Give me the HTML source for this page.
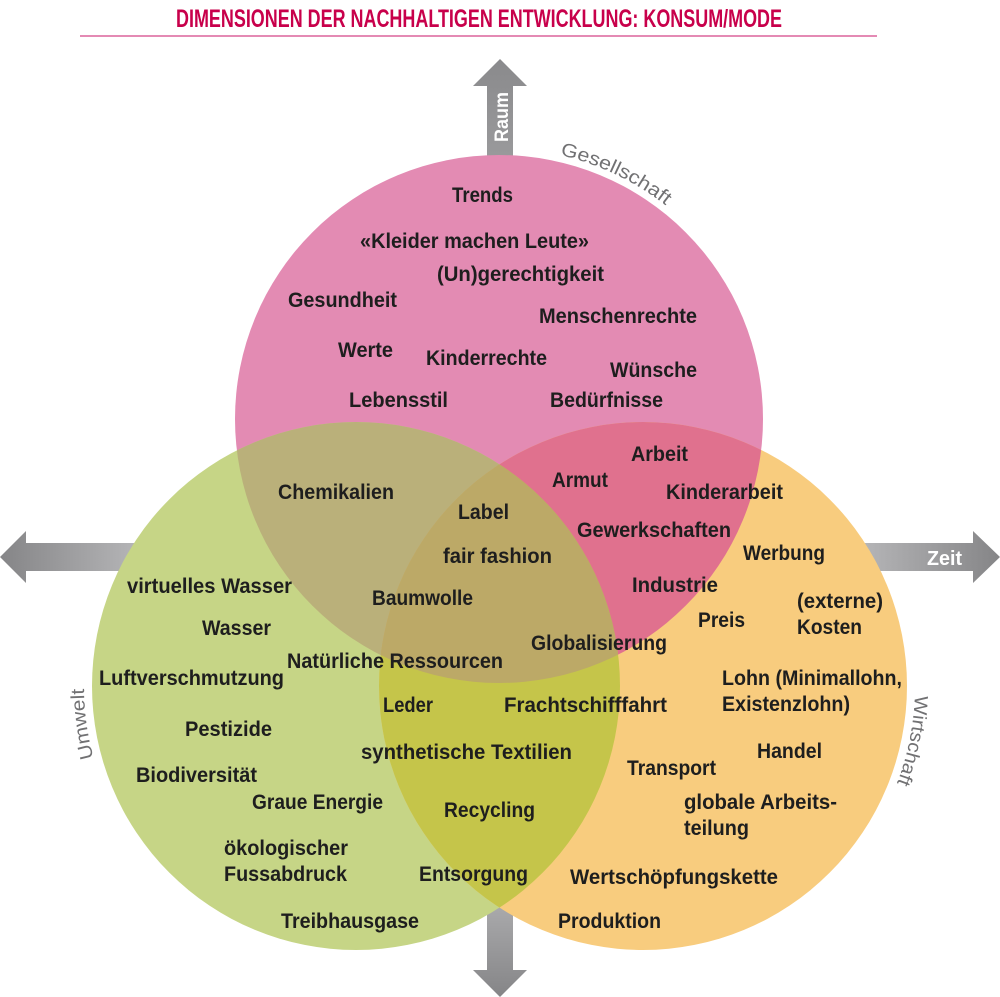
<!DOCTYPE html>
<html>
<head>
<meta charset="utf-8">
<style>
  html,body{margin:0;padding:0;background:#ffffff;}
  svg{display:block;}
  .t{font-family:"Liberation Sans",Arial,sans-serif;font-weight:bold;font-size:21px;fill:#1e1e1e;}
  .d{font-family:"Liberation Sans",Arial,sans-serif;font-weight:normal;font-size:19px;fill:#717173;}
</style>
</head>
<body>
<svg width="1000" height="997" viewBox="0 0 1000 997" xmlns="http://www.w3.org/2000/svg">
  <defs>
    <clipPath id="cP"><circle cx="499" cy="419" r="264"/></clipPath>
    <clipPath id="cG"><circle cx="356" cy="686" r="264"/></clipPath>
    <linearGradient id="gL" x1="0" y1="0" x2="140" y2="0" gradientUnits="userSpaceOnUse">
      <stop offset="0" stop-color="#858587"/>
      <stop offset="1" stop-color="#b6b6b8"/>
    </linearGradient>
    <linearGradient id="gR" x1="860" y1="0" x2="1000" y2="0" gradientUnits="userSpaceOnUse">
      <stop offset="0" stop-color="#b6b6b8"/>
      <stop offset="1" stop-color="#858587"/>
    </linearGradient>
    <linearGradient id="gT" x1="0" y1="59" x2="0" y2="160" gradientUnits="userSpaceOnUse">
      <stop offset="0" stop-color="#8a8a8c"/>
      <stop offset="1" stop-color="#9a9a9c"/>
    </linearGradient>
    <linearGradient id="gB" x1="0" y1="900" x2="0" y2="997" gradientUnits="userSpaceOnUse">
      <stop offset="0" stop-color="#acacae"/>
      <stop offset="1" stop-color="#858587"/>
    </linearGradient>
    <path id="pGes" d="M 560 155 A 271 271 0 0 1 733.7 283.5"/>
    <path id="pWir" d="M 914.8 695.5 A 272 272 0 0 1 835.3 878.3"/>
    <path id="pUmw" d="M 93.6 757.8 A 272 272 0 0 1 100.4 593"/>
  </defs>

  <!-- Title -->
  <text x="176" y="27" textLength="606" lengthAdjust="spacingAndGlyphs" style="font-family:'Liberation Sans',Arial,sans-serif;font-weight:bold;font-size:25px;fill:#c8004b;">DIMENSIONEN DER NACHHALTIGEN ENTWICKLUNG: KONSUM/MODE</text>
  <rect x="80" y="35" width="797" height="2" fill="#e48ab4"/>

  <!-- Arrows -->
  <polygon points="500,59 527,86 513,86 513,170 487,170 487,86 473,86" fill="url(#gT)"/>
  <polygon points="0,557 26,531 26,543 145,543 145,571 26,571 26,583" fill="url(#gL)"/>
  <polygon points="855,543 973,543 973,531 1000,557 973,583 973,571 855,571" fill="url(#gR)"/>
  <polygon points="487,880 513,880 513,970 527,970 500,997 473,970 487,970" fill="url(#gB)"/>

  <!-- Circles -->
  <circle cx="499" cy="419" r="264" fill="#e38bb3"/>
  <circle cx="356" cy="686" r="264" fill="#c6d586"/>
  <circle cx="643" cy="686" r="264" fill="#f8cc7e"/>
  <circle cx="356" cy="686" r="264" fill="#bab07a" clip-path="url(#cP)"/>
  <circle cx="643" cy="686" r="264" fill="#e0718e" clip-path="url(#cP)"/>
  <circle cx="643" cy="686" r="264" fill="#c5c54a" clip-path="url(#cG)"/>
  <g clip-path="url(#cP)">
    <circle cx="643" cy="686" r="264" fill="#bca967" clip-path="url(#cG)"/>
  </g>

  <!-- Arrow labels -->
  <text transform="translate(508,142) rotate(-90)" textLength="50" lengthAdjust="spacingAndGlyphs" style="font-family:'Liberation Sans',Arial,sans-serif;font-weight:bold;font-size:19px;fill:#ffffff;">Raum</text>
  <text x="927" y="565" textLength="35" lengthAdjust="spacingAndGlyphs" style="font-family:'Liberation Sans',Arial,sans-serif;font-weight:bold;font-size:20px;fill:#ffffff;">Zeit</text>

  <!-- Dimension labels -->
  <text class="d"><textPath href="#pGes" textLength="118" lengthAdjust="spacingAndGlyphs">Gesellschaft</textPath></text>
  <text class="d"><textPath href="#pWir" textLength="90" lengthAdjust="spacingAndGlyphs">Wirtschaft</textPath></text>
  <text class="d"><textPath href="#pUmw" textLength="70" lengthAdjust="spacingAndGlyphs">Umwelt</textPath></text>

  <!-- Pink (Gesellschaft) -->
  <text class="t" x="452" y="202" textLength="61" lengthAdjust="spacingAndGlyphs">Trends</text>
  <text class="t" x="360" y="248" textLength="229" lengthAdjust="spacingAndGlyphs">«Kleider machen Leute»</text>
  <text class="t" x="437" y="281" textLength="167" lengthAdjust="spacingAndGlyphs">(Un)gerechtigkeit</text>
  <text class="t" x="288" y="307" textLength="109" lengthAdjust="spacingAndGlyphs">Gesundheit</text>
  <text class="t" x="539" y="323" textLength="158" lengthAdjust="spacingAndGlyphs">Menschenrechte</text>
  <text class="t" x="338" y="357" textLength="55" lengthAdjust="spacingAndGlyphs">Werte</text>
  <text class="t" x="426" y="365" textLength="121" lengthAdjust="spacingAndGlyphs">Kinderrechte</text>
  <text class="t" x="610" y="377" textLength="87" lengthAdjust="spacingAndGlyphs">Wünsche</text>
  <text class="t" x="349" y="407" textLength="99" lengthAdjust="spacingAndGlyphs">Lebensstil</text>
  <text class="t" x="550" y="407" textLength="113" lengthAdjust="spacingAndGlyphs">Bedürfnisse</text>

  <!-- Pink ∩ Orange -->
  <text class="t" x="631" y="461" textLength="57" lengthAdjust="spacingAndGlyphs">Arbeit</text>
  <text class="t" x="552" y="487" textLength="56" lengthAdjust="spacingAndGlyphs">Armut</text>
  <text class="t" x="666" y="499" textLength="117" lengthAdjust="spacingAndGlyphs">Kinderarbeit</text>
  <text class="t" x="577" y="537" textLength="154" lengthAdjust="spacingAndGlyphs">Gewerkschaften</text>
  <text class="t" x="632" y="592" textLength="86" lengthAdjust="spacingAndGlyphs">Industrie</text>

  <!-- Pink ∩ Green / center -->
  <text class="t" x="278" y="499" textLength="116" lengthAdjust="spacingAndGlyphs">Chemikalien</text>
  <text class="t" x="458" y="519" textLength="51" lengthAdjust="spacingAndGlyphs">Label</text>
  <text class="t" x="443" y="563" textLength="109" lengthAdjust="spacingAndGlyphs">fair fashion</text>
  <text class="t" x="372" y="605" textLength="101" lengthAdjust="spacingAndGlyphs">Baumwolle</text>
  <text class="t" x="531" y="650" textLength="136" lengthAdjust="spacingAndGlyphs">Globalisierung</text>
  <text class="t" x="287" y="668" textLength="216" lengthAdjust="spacingAndGlyphs">Natürliche Ressourcen</text>

  <!-- Orange (Wirtschaft) -->
  <text class="t" x="743" y="560" textLength="82" lengthAdjust="spacingAndGlyphs">Werbung</text>
  <text class="t" x="698" y="627" textLength="47" lengthAdjust="spacingAndGlyphs">Preis</text>
  <text class="t" x="797" y="608" textLength="86" lengthAdjust="spacingAndGlyphs">(externe)</text>
  <text class="t" x="797" y="634" textLength="65" lengthAdjust="spacingAndGlyphs">Kosten</text>
  <text class="t" x="722" y="685" textLength="180" lengthAdjust="spacingAndGlyphs">Lohn (Minimallohn,</text>
  <text class="t" x="722" y="711" textLength="128" lengthAdjust="spacingAndGlyphs">Existenzlohn)</text>
  <text class="t" x="757" y="758" textLength="65" lengthAdjust="spacingAndGlyphs">Handel</text>
  <text class="t" x="627" y="775" textLength="89" lengthAdjust="spacingAndGlyphs">Transport</text>
  <text class="t" x="684" y="809" textLength="153" lengthAdjust="spacingAndGlyphs">globale Arbeits-</text>
  <text class="t" x="684" y="835" textLength="65" lengthAdjust="spacingAndGlyphs">teilung</text>
  <text class="t" x="570" y="884" textLength="208" lengthAdjust="spacingAndGlyphs">Wertschöpfungskette</text>
  <text class="t" x="558" y="928" textLength="103" lengthAdjust="spacingAndGlyphs">Produktion</text>

  <!-- Green ∩ Orange -->
  <text class="t" x="383" y="712" textLength="50" lengthAdjust="spacingAndGlyphs">Leder</text>
  <text class="t" x="504" y="712" textLength="163" lengthAdjust="spacingAndGlyphs">Frachtschifffahrt</text>
  <text class="t" x="361" y="759" textLength="211" lengthAdjust="spacingAndGlyphs">synthetische Textilien</text>
  <text class="t" x="444" y="817" textLength="91" lengthAdjust="spacingAndGlyphs">Recycling</text>
  <text class="t" x="419" y="881" textLength="109" lengthAdjust="spacingAndGlyphs">Entsorgung</text>

  <!-- Green (Umwelt) -->
  <text class="t" x="127" y="593" textLength="165" lengthAdjust="spacingAndGlyphs">virtuelles Wasser</text>
  <text class="t" x="202" y="635" textLength="69" lengthAdjust="spacingAndGlyphs">Wasser</text>
  <text class="t" x="99" y="685" textLength="185" lengthAdjust="spacingAndGlyphs">Luftverschmutzung</text>
  <text class="t" x="185" y="736" textLength="87" lengthAdjust="spacingAndGlyphs">Pestizide</text>
  <text class="t" x="136" y="782" textLength="121" lengthAdjust="spacingAndGlyphs">Biodiversität</text>
  <text class="t" x="252" y="809" textLength="131" lengthAdjust="spacingAndGlyphs">Graue Energie</text>
  <text class="t" x="224" y="855" textLength="124" lengthAdjust="spacingAndGlyphs">ökologischer</text>
  <text class="t" x="224" y="881" textLength="123" lengthAdjust="spacingAndGlyphs">Fussabdruck</text>
  <text class="t" x="281" y="928" textLength="138" lengthAdjust="spacingAndGlyphs">Treibhausgase</text>
</svg>
</body>
</html>
